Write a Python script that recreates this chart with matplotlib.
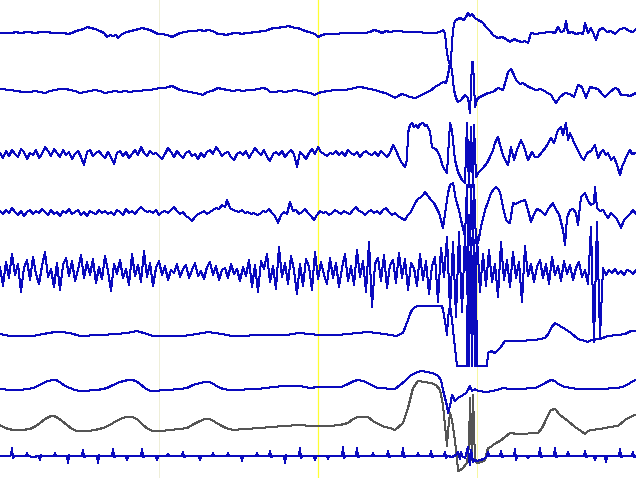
import numpy as np
import matplotlib
matplotlib.use("Agg")
import matplotlib.pyplot as plt

# sampling rate (samples per second) of the traces; page = 4 s
FS = 159.0
PAGE_SECONDS = 4.0
GRID_SECONDS = [1.0, 2.0, 3.0]

# channel data: (sample index, amplitude) pairs, amplitude in display units (up = positive)
ch1 = [(0,0),(4,-0.5),(8,0.5),(12,0),(16,1),(20,0),(24,0.5),(28,1),(32,0.5),(36,0),(40,1),(44,0.5),(48,1),(52,0),(56,0.5),(60,0),(64,0),(68,-1),(72,0),(76,2),(80,3),(84,4),(87,6),(91,5),(95,4),(100,2),(104,0),(107,-4),(110,-2),(113,-3),(116,-2),(118,-5),(122,-1),(127,1),(131,2),(135,3),(139,4),(142,5),(146,4),(150,3),(154,1),(158,-1),(162,-1),(167,-2),(170,-3),(172,-4),(176,-2),(180,0),(185,1),(190,2),(195,2),(200,3),(204,2),(208,3),(213,2),(216,0),(218,-1),(222,-1),(226,-2),(230,-1),(234,0),(238,0),(242,-1),(246,0),(250,0),(254,1),(258,1),(262,2),(265,2),(268,3),(270,4),(274,5),(278,5),(282,6),(285,6),(288,7),(292,6),(295,5),(298,5),(300,4),(303,3),(305,2),(309,1),(312,0),(315,-1),(318,-4),
       (322,-2),(326,-1),(330,-1.5),(335,-1),(340,-0.5),(345,0),(350,-0.5),(355,0),(360,0.5),(365,0),(370,1),(374,3),(378,2),(382,0),(386,2),(390,1),(395,2),(400,2),(405,1),(410,1),(415,0.5),(420,1),(425,0),(430,0.5),(435,0),(440,1),(443,3),(445,0),(447,-20),(449,-30),(451,-30),(452,-8),(454,10),(456,13),(460,15),(464,13),(466,16),(468,20),(470,17),(472,19),(475,15),(478,13),(482,11),(487,5),(490,2),(493,-2),(496,-4),(498,-5),(502,-4),(506,-6),(510,-9),(514,-6),(518,-8),(522,-9),(525,-8),(528,-10),(531,0),(536,-1),(541,0),(546,0.5),(551,1),(555,0),(558,6),(561,1),(564,2),(566,12),(568,0),(572,1),(576,-1),(580,0),(583,-1),(585,10),(588,0),(591,5),(594,-2),(596,-7),(599,3),(603,5),(607,1),(611,2),(615,-1),(620,4),(625,5),(629,2),(633,1),(636,4)]

ch2 = [(0,1),(5,0.5),(10,0),(17,-1),(23,-2),(30,-2),(35,-1),(40,-2),(45,-3),(50,-1),(55,0),(60,1),(66,1),(70,0),(75,-1),(80,-3),(85,-2),(90,-1),(95,0),(100,-1),(105,-3),(110,-2),(115,-1),(120,-2),(125,-1),(130,-2),(135,-1),(140,-1),(145,0),(150,0),(155,1),(160,2),(165,2),(168,3),(172,4),(176,2),(180,0),(185,-1),(190,-2),(195,-3),(200,-4),(203,-5),(207,-2),(212,-1),(218,2),(222,1),(228,0),(233,-1),(238,0),(243,-1),(248,0),(253,0),(258,1),(263,2),(267,1),(270,-2),(275,-2),(280,-1),(285,-2),(290,-1),(295,0),(300,-1),(305,-2),(310,-3),(315,-5),(318,-3),
       (322,-2),(328,-1),(335,0),(340,0.5),(345,0),(350,1),(355,2),(358,3),(361,3),(365,2),(370,1),(375,0),(381,-2),(385,-3),(390,-5),(395,-8),(398,-6),(402,-4),(405,-5),(410,-7),(415,-8),(420,-6),(425,-3),(430,-1),(435,3),(440,6),(443,8),(446,7),(448,15),(450,27),(452,20),(454,0),(456,-8),(458,-12),(461,-10),(465,-5),(468,-8),(470,-23),(472,28),(473,28),(475,-17),(477,-10),(478,-8),(482,-6),(488,-3),(493,-2),(498,2),(503,0),(506,10),(508,18),(511,21),(514,15),(516,10),(520,6),(523,7),(527,4),(531,2),(536,0),(541,1),(546,-2),(551,-5),(554,-10),(556,-13),(560,-7),(565,-3),(570,-4),(574,-7),(578,5),(582,3),(586,-8),(590,3),(594,2),(598,1),(602,-4),(605,-7),(610,-2),(615,2),(618,1),(621,-5),(626,-5),(630,-6),(636,-3)]

ch3 = [(0,2),(3,-3),(6,4),(9,-1),(12,5),(15,1),(18,-2),(21,6),(24,3),(27,-4),(30,2),(33,0),(36,5),(39,-3),(42,1),(45,8),(48,4),(51,-1),(54,6),(57,2),(60,-2),(63,5),(66,0),(69,3),(72,-4),(75,1),(78,4),(81,-2),(84,-10),(87,3),(90,5),(93,-1),(96,2),(99,4),(102,0),(105,-3),(108,3),(111,-2),(114,-9),(117,2),(120,4),(123,-1),(126,3),(129,-3),(132,1),(135,5),(138,0),(141,8),(144,2),(147,-1),(150,4),(153,1),(156,2),(159,-1),(162,-4),(165,1),(168,7),(171,3),(174,-2),(177,4),(180,0),(183,-3),(186,2),(189,4),(192,-1),(195,1),(198,-4),(201,2),(204,-2),(207,3),(210,5),(213,1),(216,8),(219,4),(222,-1),(225,2),(228,3),(231,-2),(234,-5),(237,1),(240,3),(243,0),(246,4),(249,-3),(252,2),(255,7),(258,3),(261,0),(264,5),(267,-2),(270,-6),(273,1),(276,3),(279,0),(282,4),(285,-2),(288,2),(291,5),(294,1),(297,-12),(300,3),(303,0),(306,-4),(309,2),(312,6),(315,1),(318,8),(321,3),(324,1),(327,-1),(330,2),(333,1),(336,4),(339,0),(342,3),(345,-1),(348,5),(351,2),(354,0),(357,3),(360,-2),(363,2),(366,4),(369,1),(372,0),(375,3),(378,-1),(381,4),(384,1),(387,-2),(390,2),(393,10),(396,5),(399,-3),(402,-8),
       (405,-12),(407,-5),(408,22),(410,30),(412,32),(414,28),(416,30),(418,27),(420,31),(423,32),(425,29),(427,30),(430,23),(432,8),(435,6),(437,5),(440,-2),(443,-12),(447,-18),(449,15),(450,32),(452,25),(455,-5),(458,-17),(462,-25),(465,-28),(467,32),(469,-32),(471,28),(473,-32),(474,30),(476,-22),(478,-18),(483,-13),(487,-8),(490,-2),(493,5),(495,12),(498,18),(500,10),(503,0),(505,-5),(508,-10),(511,8),(514,-5),(517,5),(521,15),(524,8),(528,-5),(532,3),(535,-2),(538,-2),(542,3),(546,8),(551,17),(554,12),(558,25),(561,28),(563,20),(566,32),(568,15),(570,22),(573,15),(576,8),(578,5),(581,-2),(584,-5),(587,2),(591,4),(595,10),(598,-3),(601,3),(603,5),(606,0),(608,2),(611,-5),(614,-2),(617,-10),(620,-20),(622,-12),(625,-5),(628,2),(630,5),(632,1),(636,2)]

ch4 = [(0,2),(3,-1),(6,3),(9,0),(12,5),(15,1),(18,-2),(21,2),(24,-3),(27,1),(30,3),(33,-1),(36,2),(39,0),(42,4),(45,1),(48,-2),(51,3),(54,-1),(57,1),(60,-3),(63,2),(66,0),(69,4),(72,-1),(75,1),(78,3),(81,-2),(84,1),(87,-3),(90,2),(93,0),(96,-1),(99,3),(102,0),(105,2),(108,-1),(111,1),(114,-2),(117,3),(120,1),(123,-2),(126,4),(129,0),(132,2),(135,-1),(138,3),(141,6),(144,3),(147,1),(150,2),(153,0),(156,3),(159,-2),(162,1),(165,2),(168,0),(171,3),(174,6),(177,2),(180,-1),(183,1),(186,-3),(189,-5),(192,-8),(195,-4),(198,-1),(201,0),(204,2),(207,-1),(210,1),(213,3),(216,5),(219,4),(222,8),(225,6),(227,13),(230,5),(233,3),(236,2),(239,1),(242,3),(245,0),(248,1),(251,-1),(254,0),(257,-2),(260,-1),(263,2),(266,1),(269,4),(272,0),(275,-3),(278,-10),(281,-2),(284,1),(287,-1),(290,11),(293,2),(296,3),(299,-1),(302,1),(305,4),(308,0),(311,-3),(314,-7),(317,-2),(320,2),(323,0),(326,1),(329,-2),(332,0),(335,3),(338,1),(341,-1),(344,2),(347,0),(350,-1),(353,3),(356,6),(359,2),(362,1),(365,-2),(368,1),(371,3),(374,0),(377,2),(380,-1),(383,3),(386,5),(389,1),(392,-2),(395,0),(398,-3),(401,-5),
       (405,-7),(408,-2),(410,0),(413,5),(415,10),(418,14),(421,16),(423,18),(425,21),(428,17),(431,13),(434,10),(436,6),(439,0),(441,-7),(443,-15),(446,6),(448,20),(450,28),(453,30),(456,13),(459,3),(461,-7),(463,-15),(465,-24),(467,28),(468,-30),(470,-32),(471,28),(473,-32),(474,28),(476,-30),(478,-30),(481,-14),(485,3),(488,11),(491,20),(494,24),(496,26),(498,24),(500,21),(503,6),(506,-7),(508,-9),(510,-10),(513,10),(516,9),(519,11),(522,12),(525,13),(528,3),(531,-9),(534,-1),(537,4),(541,2),(545,-2),(549,5),(553,10),(556,3),(559,-1),(563,-17),(565,-32),(567,-5),(570,3),(573,4),(576,0),(578,-12),(581,16),(585,20),(588,12),(591,8),(594,10),(595,26),(597,5),(600,2),(603,3),(606,-2),(608,-5),(611,0),(614,-3),(617,-6),(621,-15),(624,-7),(627,-4),(630,-1),(633,3),(636,-1)]

ch5_start = 0
ch5_step = 3
ch5 = [5,-14,10,-6,18,-3,8,-20,4,12,
       -8,15,-2,-12,6,20,-5,3,-15,9,
       -18,7,14,-4,11,-9,2,17,-6,10,
       -3,13,-11,5,-7,16,1,-19,8,-2,
       12,-6,3,-13,18,-4,7,-10,21,-5,
       9,-14,4,11,-3,6,-8,2,-1,8,
       -5,3,7,-6,2,9,-4,1,-7,5,
       10,-3,6,-8,2,4,-6,8,-2,3,
       -9,5,-4,12,-15,7,-20,11,3,18,
       -10,6,-17,25,-5,9,-12,16,2,-22,
       8,-14,13,5,-18,20,-7,10,-3,-12,
       14,-6,9,-15,4,18,-9,6,-13,22,
       -5,11,-20,30,-35,8,14,-9,17,-16,
       7,12,-11,19,-6,13,-18,9,4,-14,
       18,-8,11,-22,6,15,-30,24,-5,35,
       -38,30,-45,40,-40,38,-35,32,-60,35,
       -20,18,-14,22,-10,8,-25,30,-8,12,
       -15,20,-6,10,-30,26,-4,8,-10,5,
       12,-6,8,-12,15,-3,6,-9,11,-2,
       7,-8,4,10,-5,2,-12,45,-70,50,
       -65,4,-3,2,-1,3,-2,1,-3,2,
       1,-2,2]

ch6 = [(0,1),(10,-1),(33,-1),(43,1),(52,2.5),(60,3),(70,2),(80,-1),(100,0),(117,1),(127,2),(137,4),(147,1),(153,-1),(183,-1),(197,1),(208,3),(222,1),(232,-1),(267,0),(287,0),(298,2),(310,1),(318,0),(338,0),(348,1),(368,3),(385,1),(396,-1),(403,2),(406,10),(408,15),(410,21),(412,25),(415,28),(418,29),(442,29),(443,25),(445,14),(447,0),(448,17),(450,30),(452,15),(455,-13),(457,-31),(467,-31),(468,90),(469,-31),(471,97),(472,-31),(474,95),(475,-31),(476,60),(477,-31),(487,-31),(488,-18),(491,-16),(495,-18),(500,-13),(505,-6),(510,-6),(518,-6),(535,-5),(545,-3),(549,2),(551,7),(555,12),(560,9),(565,6),(571,2),(578,-4),(585,-6),(588,-7),(591,-5),(600,-4),(608,-1),(618,0),(625,1),(631,4),(636,4)]

ch7 = [(0,-1),(10,-2),(20,-2),(28,-1),(33,0),(38,2),(43,5),(48,7),(53,8),(57,7.5),(61,5),(65,2),(70,0),(75,-2),(80,-3),(90,-2.5),(97,-2),(103,-1),(107,0),(113,3),(120,6),(126,7.5),(132,8),(136,7),(140,4),(145,0),(150,-3),(160,-2.5),(167,-2),(180,-1),(187,0),(193,3),(200,5),(205,6),(210,6),(215,3),(220,0),(226,-1.5),(233,-2),(257,-1),(283,2),(300,2),(310,0),(318,1),(341,1),(346,3),(350,5),(354,7),(358,8),(363,7),(368,5),(373,2),(378,0),(395,-1),(400,3),(405,7),(410,12),(415,15),(421,17),(428,16),(435,14),(438,12),(441,8),(443,-2),(447,-18),(448,-25),(450,-18),(452,-7),(455,-13),(458,-10),(463,-7),(466,-5),(468,-2),(470,2),(472,-3),(475,-1),(478,-3),(487,-4),(497,-2),(503,0),(510,-1),(518,-1),(535,0),(540,2),(545,5),(551,8),(555,7),(558,4),(565,1),(578,-1),(600,-1),(618,0),(625,2),(630,5),(635,8)]

ch8 = [(0,0),(5,-3),(13,-5),(22,-5),(30,-4),(36,-1),(40,2),(45,6),(50,8.5),(54,9),(58,7),(62,4),(67,0),(72,-4),(77,-6),(85,-6.5),(95,-5),(103,-3),(110,0),(116,4),(123,7),(128,8.5),(133,8),(138,5),(143,0),(148,-4),(153,-6),(162,-6),(170,-5),(180,-4),(187,-3),(194,1),(200,4),(205,6),(210,6),(215,3),(220,0),(226,-3),(233,-5),(245,-4),(260,-3),(283,-1),(300,0),(310,-1),(318,-1),(330,-1),(340,0),(348,2),(353,6),(358,8),(363,8.5),(368,8),(373,4),(378,1),(385,-2),(390,-3),(395,-5),(403,2),(408,17),(413,37),(418,44),(431,42),(436,40),(440,35),(443,20),(445,0),(447,-21),(448,-6),(450,12),(452,5),(455,-16),(457,-33),(458,-46),(462,-44),(467,-38),(469,-20),(470,27),(472,-35),(473,30),(475,-36),(477,-38),(481,-37),(485,-35),(488,-23),(491,-22),(493,-20),(496,-18),(500,-16),(505,-12),(510,-8),(518,-9),(538,-8),(542,-3),(545,3),(548,10),(551,15),(555,16),(560,10),(568,4),(575,-2),(581,-6),(585,-9),(588,-6),(591,-5),(600,-4),(610,-2),(618,-1),(625,5),(630,8),(635,10)]

ch9 = [(0,0),(5,0.5),(10,0),(11,1),(12,8),(13,-2),(15,0),(20,0.5),(26,0),(27,3),(28,0),(33,-1),(39,0),(40,-4),(41,1),(42,0),(48,0.5),(54,0),(55,3),(56,0),(62,0.5),(67,0),(68,-7),(69,1),(70,0),(76,0),(82,0),(83,6),(84,-1),(86,0),(92,0.5),(97,0),(98,-7),(99,1),(100,0),(107,0),(112,0),(113,7),(114,-1),(116,0),(121,0.5),(126,0),(127,-4),(128,0),(135,0),(141,0),(142,7),(143,-1),(145,0),(150,0.5),(156,0),(157,-4),(158,0),(167,0),(168,2),(169,0),(176,0.5),(182,0),(183,4),(184,-1),(186,0),(193,0.5),(199,0),(200,-4),(201,0),(212,0),(213,3),(214,0),(220,0.5),(227,0),(228,3),(229,0),(235,0),(241,0),(242,-5),(243,0),(250,0.5),(256,0),(257,3),(258,0),(264,0),(269,0),(270,5),(271,-1),(273,0),(279,0.5),(284,0),(285,-7),(286,1),(287,0),(293,0),(299,0),(300,8),(301,-2),(303,0),(309,0.5),(314,0),(315,-4),(316,0),(322,0),(327,0),(328,-3),(329,0),(336,0),(342,0),(343,9),(344,-2),(346,0),(350,0),(356,0),(357,8),(358,-1),(360,0),(367,0.5),(372,0),(373,3),(374,0),(380,0),(387,0),(388,5),(389,-1),(391,0),(396,0),(402,0),(403,8),(404,-1),(406,0),(411,0),(417,0),(418,3),(419,0),(425,0),(430,0),(431,5),(432,-1),(434,0),(438,0),(444,0),(445,4),(446,-2),(448,0),(452,-1),(456,1),(458,4),(460,-3),(461,4),(462,0),(465,-2),(468,9),(469,-3),(470,-9),(471,6),(473,-6),(475,-4),(477,-5),(480,-4),(484,-3),(487,0),(488,4),(489,0),(494,0),(500,0),(501,5),(502,-1),(504,0),(509,0),(514,0),(515,7),(516,-4),(517,0),(522,0),(527,0),(528,-2),(529,0),(535,0),(539,0),(540,8),(541,-1),(543,0),(548,0),(554,0),(555,8),(556,-1),(558,0),(562,0),(567,0),(568,4),(569,0),(575,0),(584,0),(585,5),(586,-1),(588,0),(594,0),(595,-4),(596,0),(600,0),(605,0),(606,-6),(607,0),(612,0),(619,0),(620,7),(621,-1),(623,0),(627,0),(632,0),(633,4),(634,-1),(636,0)]

# layout (montage): vertical offset of each channel baseline, in display units from top
offsets = [33, 90, 155, 213, 272, 335, 388, 425, 456]
colors = ['#0a0abe'] * 7 + ['#555555', '#0a0abe']

def pairs_to_arrays(pairs):
    arr = np.array(pairs, dtype=float)
    return arr[:, 0] / FS, arr[:, 1]

fig = plt.figure(figsize=(6.36, 4.78), dpi=100)
ax = fig.add_axes([0, 0, 1, 1])
ax.set_xlim(0, PAGE_SECONDS)
ax.set_ylim(478, 0)
ax.axis('off')

ax.axvline(GRID_SECONDS[0], color='#eeeed8', lw=0.72, zorder=0)
ax.axvline(GRID_SECONDS[1], color='#ffff30', lw=0.9, zorder=0)
ax.axvline(GRID_SECONDS[2], color='#f6f6a0', lw=0.72, zorder=0)

ch5_t = (ch5_start + ch5_step * np.arange(len(ch5))) / FS
channels = [pairs_to_arrays(ch1), pairs_to_arrays(ch2), pairs_to_arrays(ch3),
            pairs_to_arrays(ch4), (ch5_t, np.array(ch5, dtype=float)),
            pairs_to_arrays(ch6), pairs_to_arrays(ch7), pairs_to_arrays(ch8),
            pairs_to_arrays(ch9)]

for (t, v), off, c in zip(channels, offsets, colors):
    ax.plot(t, off - v, color=c, lw=0.72, antialiased=False, zorder=2)

fig.savefig('out.png', dpi=100, facecolor='white')
